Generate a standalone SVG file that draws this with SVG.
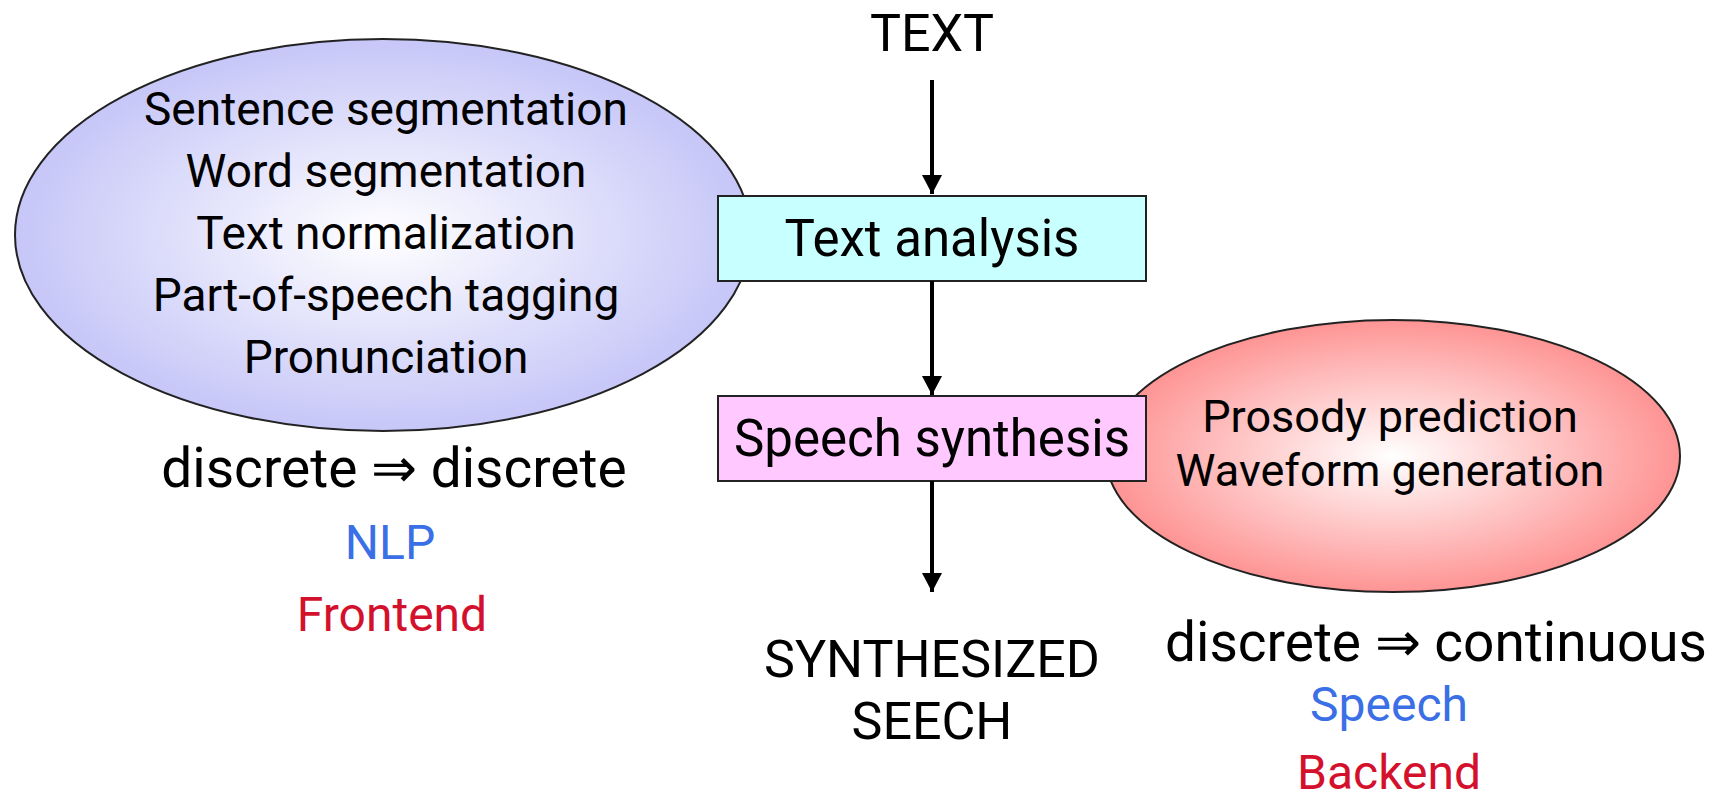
<svg xmlns="http://www.w3.org/2000/svg" width="1714" height="801" viewBox="0 0 1714 801">
  <style>
    text { font-family: Roboto, "Liberation Sans", sans-serif; fill: #000; text-anchor: middle; }
    .big { font-size: 52px; }
    .box { font-size: 51px; }
    .item { font-size: 46px; }
    .ritem { font-size: 45px; }
    .rel { font-size: 55px; }
    .lab { font-size: 48px; }
    .blue { fill: #3a6fe6; }
    .red { fill: #d4112c; }
    .conn { stroke: #000; stroke-width: 4; fill: none; }
    .shape { stroke: #222; stroke-width: 2; }
  </style>
  <defs>
    <radialGradient id="gBlue" cx="0.5" cy="0.5" r="0.5">
      <stop offset="0" stop-color="#ffffff"/>
      <stop offset="1" stop-color="#c6c6f8"/>
    </radialGradient>
    <radialGradient id="gRed" cx="0.5" cy="0.5" r="0.5">
      <stop offset="0" stop-color="#ffffff"/>
      <stop offset="1" stop-color="#fe9494"/>
    </radialGradient>
    <marker id="arrow" markerUnits="userSpaceOnUse" markerWidth="22" markerHeight="22" refX="19" refY="10" orient="auto">
      <path d="M0,0 L19,10 L0,20 Z" fill="#000"/>
    </marker>
  </defs>

  <g id="frontend-ellipse">
    <ellipse class="shape" cx="383" cy="235" rx="368" ry="196" fill="url(#gBlue)"/>
    <text class="item" x="386" y="125">Sentence segmentation</text>
    <text class="item" x="386" y="187">Word segmentation</text>
    <text class="item" x="386" y="249">Text normalization</text>
    <text class="item" x="386" y="311">Part-of-speech tagging</text>
    <text class="item" x="386" y="373">Pronunciation</text>
  </g>

  <g id="backend-ellipse">
    <ellipse class="shape" cx="1393" cy="456" rx="287" ry="136" fill="url(#gRed)"/>
    <text class="ritem" x="1390" y="432">Prosody prediction</text>
    <text class="ritem" x="1390" y="486">Waveform generation</text>
  </g>

  <g id="input-text">
    <text class="big" x="932" y="51">TEXT</text>
  </g>

  <g id="text-analysis">
    <rect class="shape" x="718" y="196" width="428" height="85" fill="#c8ffff"/>
    <text class="box" x="932" y="256">Text analysis</text>
  </g>

  <g id="speech-synthesis">
    <rect class="shape" x="718" y="396" width="428" height="85" fill="#ffc8ff"/>
    <text class="box" x="932" y="456">Speech synthesis</text>
  </g>

  <g id="output">
    <text class="big" x="932" y="677">SYNTHESIZED</text>
    <text class="big" x="932" y="739">SEECH</text>
  </g>

  <g id="frontend-labels">
    <text class="rel" x="394" y="487">discrete ⇒ discrete</text>
    <text class="lab blue" x="390" y="559">NLP</text>
    <text class="lab red" x="392" y="631">Frontend</text>
  </g>

  <g id="backend-labels">
    <text class="rel" x="1436" y="661">discrete ⇒ continuous</text>
    <text class="lab blue" x="1389" y="721">Speech</text>
    <text class="lab red" x="1389" y="789">Backend</text>
  </g>

  <g id="connectors">
    <line class="conn" x1="932" y1="80" x2="932" y2="194" marker-end="url(#arrow)"/>
    <line class="conn" x1="932" y1="281" x2="932" y2="395" marker-end="url(#arrow)"/>
    <line class="conn" x1="932" y1="481" x2="932" y2="592" marker-end="url(#arrow)"/>
  </g>
</svg>
